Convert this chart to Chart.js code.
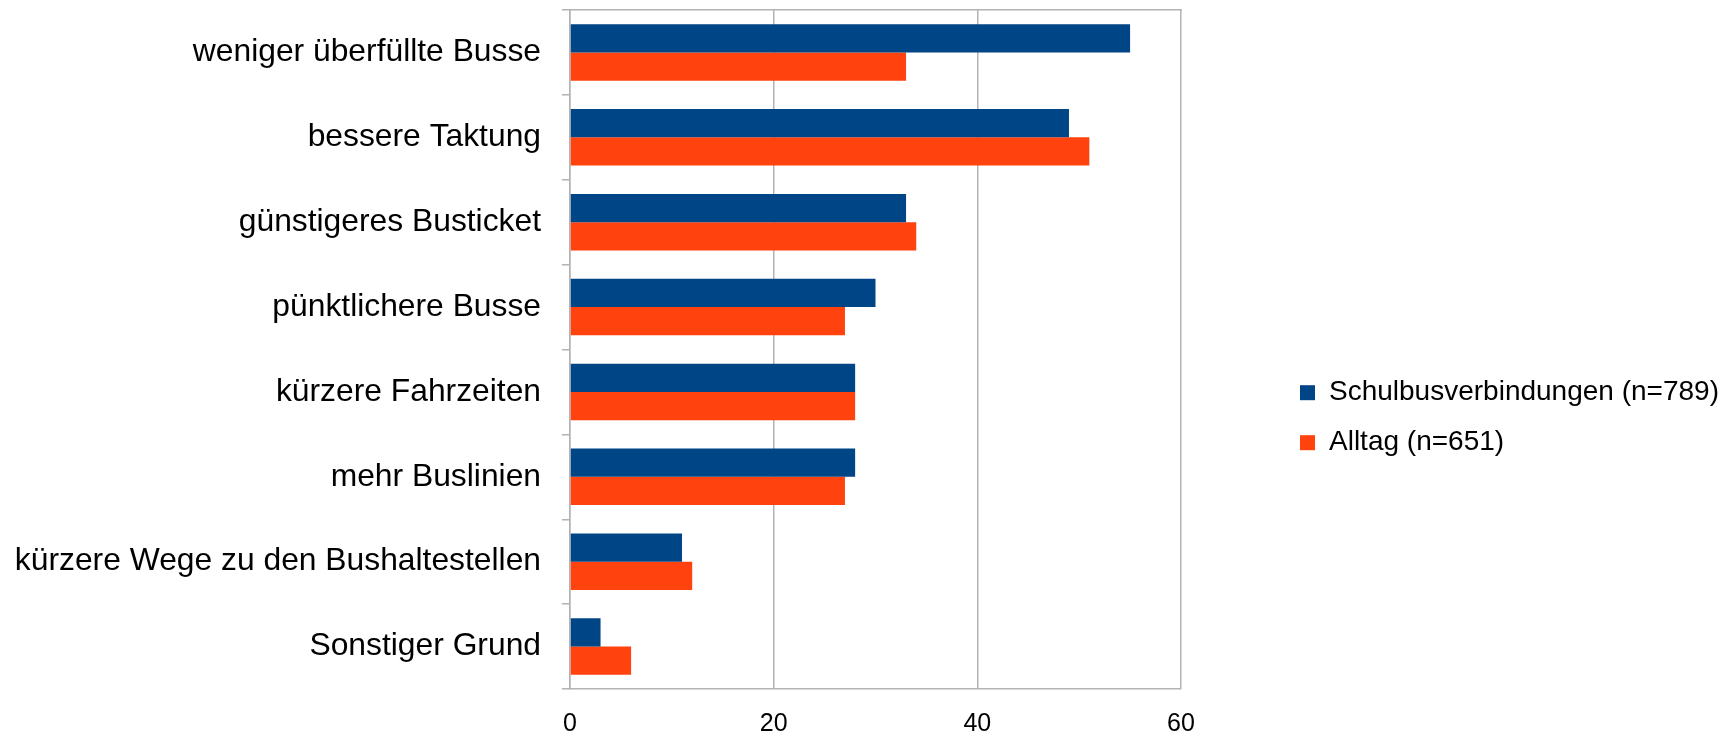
<!DOCTYPE html>
<html>
<head>
<meta charset="utf-8">
<script src="https://cdn.jsdelivr.net/npm/chart.js@4"></script>
<style>
  html, body { margin: 0; padding: 0; background: #fff; }
  #wrap { width: 1723px; height: 733px; }
</style>
</head>
<body>
<div id="wrap"><canvas id="barChart" width="1723" height="733"></canvas></div>
<script>
const categories = [
    'weniger überfüllte Busse',
    'bessere Taktung',
    'günstigeres Busticket',
    'pünktlichere Busse',
    'kürzere Fahrzeiten',
    'mehr Buslinien',
    'kürzere Wege zu den Bushaltestellen',
    'Sonstiger Grund'
];
const schulbus = [55, 49, 33, 30, 28, 28, 11, 3];
const alltag = [33, 51, 34, 27, 28, 27, 12, 6];
const xTicks = [0, 20, 40, 60];

const gridGrey = '#b3b3b3';
const labelFont = 'Liberation Sans';

// the legend box is clamped by the layout; let it run to the canvas edge so the text is not clipped
const legendToEdge = {
    id: 'legendToEdge',
    afterLayout(chart) {
        const lg = chart.legend;
        lg.right = chart.width;
        lg.width = lg.right - lg.left;
    }
};

const ctx = document.getElementById('barChart');
const chart = new Chart(ctx, {
    type: 'bar',
    data: {
        labels: categories,
        datasets: [{
            label: 'Schulbusverbindungen (n=789)',
            data: schulbus,
            backgroundColor: '#004586',
            categoryPercentage: 0.667,
            barPercentage: 1.0
        }, {
            label: 'Alltag (n=651)',
            data: alltag,
            backgroundColor: '#ff420e',
            categoryPercentage: 0.667,
            barPercentage: 1.0
        }]
    },
    plugins: [legendToEdge],
    options: {
        indexAxis: 'y',
        responsive: false,
        animation: false,
        layout: { padding: { left: 0, right: 245, top: 10, bottom: 0 } },
        scales: {
            x: {
                min: 0,
                max: 60,
                afterBuildTicks: (scale) => {
                    scale.ticks = xTicks.map(v => ({ value: v }));
                },
                afterFit: (scale) => { scale.height = 44; },
                grid: { color: gridGrey, lineWidth: 1.5, drawTicks: false },
                border: { color: gridGrey, width: 1.5 },
                ticks: { color: '#000', font: { family: labelFont, size: 25 }, padding: 20 }
            },
            xTop: {
                position: 'top',
                min: 0,
                max: 60,
                grid: { display: false },
                ticks: { display: false },
                border: { color: gridGrey, width: 1.5 },
                afterFit: (scale) => { scale.height = 0; }
            },
            y: {
                offset: true,
                afterFit: (scale) => {
                    scale.width = 570;
                    scale.paddingTop = 0;
                    scale.paddingBottom = 0;
                },
                grid: { offset: true, drawOnChartArea: false, color: gridGrey, lineWidth: 1.5, tickLength: 8 },
                border: { color: gridGrey, width: 1.5 },
                ticks: { color: '#000', font: { family: labelFont, size: 31.8 }, padding: 21 }
            },
            yGap: {
                position: 'right',
                grid: { display: false },
                ticks: { display: false },
                border: { display: false },
                afterFit: (scale) => { scale.width = 97; }
            }
        },
        plugins: {
            legend: {
                position: 'right',
                align: 'center',
                maxWidth: 200,
                title: { display: true, text: ' ', padding: { top: 0, bottom: 78 } },
                labels: {
                    color: '#000',
                    boxWidth: 15,
                    boxHeight: 15,
                    padding: 22,
                    font: { family: labelFont, size: 28 }
                }
            },
            tooltip: { enabled: false }
        }
    }
});
</script>
</body>
</html>
